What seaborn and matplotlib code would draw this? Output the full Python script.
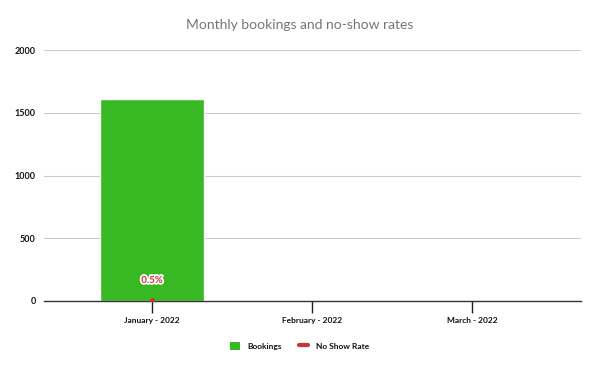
import matplotlib
matplotlib.use("Agg")
import matplotlib.pyplot as plt
import matplotlib.patheffects as pe
from matplotlib.lines import Line2D
from matplotlib.patches import Patch
import seaborn as sns
import pandas as pd
import numpy as np

months = ["January - 2022", "February - 2022", "March - 2022"]
bookings = [1610, 0, 0]
no_show_rate = [0.005, np.nan, np.nan]
y_ticks = [0, 500, 1000, 1500, 2000]

sns.set_theme(style="white")
plt.rcParams['font.family'] = ['Lato', 'DejaVu Sans']

df = pd.DataFrame({"month": months, "bookings": bookings, "rate": no_show_rate})

fig = plt.figure(figsize=(6, 3.71), dpi=100)
ax = fig.add_axes([44/600, 1-301/371, (581-44)/600, (301-50)/371])

sns.barplot(data=df, x="month", y="bookings", color="#38b822", saturation=1,
            width=0.65, ax=ax, zorder=2)
ax.set_xlim(-0.675, 2.68)
ax.set_ylim(0, 2000)
ax.set_yticks(y_ticks)
ax.set_yticklabels([str(t) for t in y_ticks], fontsize=6.5, color="#111111",
                   fontweight="bold")
ax.tick_params(axis="y", length=0, pad=6)
ax.tick_params(axis="x", length=8.5, width=1, color="#222222", labelsize=6,
               labelcolor="#111111", pad=3, bottom=True, direction="out")
for lbl in ax.get_xticklabels():
    lbl.set_fontweight("bold")
ax.grid(axis="y", color="#cccccc", linewidth=0.8, zorder=0)
ax.set_axisbelow(True)
for s in ["top", "right", "left"]:
    ax.spines[s].set_visible(False)
ax.spines["bottom"].set_color("#333333")
ax.spines["bottom"].set_linewidth(1)
ax.set_xlabel("")
ax.set_ylabel("")

ax2 = ax.twinx()
sns.lineplot(x=[0, 1, 2], y=no_show_rate, color="#cc3333", marker="o",
             markersize=3.5, markeredgewidth=0, ax=ax2, legend=False)
ax2.set_ylim(0, 1)
ax2.set_axis_off()
ax2.set_xlim(ax.get_xlim())
ax2.text(0, 0.082, "0.5%", ha="center", va="center", fontsize=7, fontweight="bold",
         color="#cc3333",
         path_effects=[pe.withStroke(linewidth=2.5, foreground="white")])

fig.suptitle("Monthly bookings and no-show rates", x=0.5, y=1-25/371, va="center",
             fontsize=10, color="#757575")

handles = [Patch(facecolor="#38b822", edgecolor="none"),
           Line2D([0], [0], color="#cc3333", linewidth=3)]
leg = fig.legend(handles, ["Bookings", "No Show Rate"], loc="center",
           bbox_to_anchor=(0.5, 1-346/371), ncol=2, frameon=False, fontsize=6,
           handlelength=1.1, handleheight=1.1, columnspacing=2.0, handletextpad=1.0)
for t in leg.get_texts():
    t.set_fontweight("bold")
    t.set_color("#111111")

fig.savefig("out.png", dpi=100)
